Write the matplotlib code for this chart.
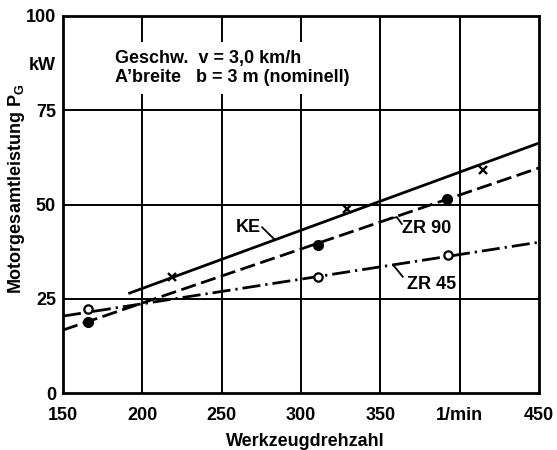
import matplotlib.pyplot as plt

# Werkzeugdrehzahl (1/min) -> Motorgesamtleistung (kW)
ke_line_x = [192, 450]
ke_line_y = [26.5, 66.3]
ke_pts_x = [219, 329, 415]
ke_pts_y = [30.8, 48.8, 59.2]

zr90_line_x = [150, 450]
zr90_line_y = [16.7, 59.7]
zr90_pts_x = [166, 311, 392]
zr90_pts_y = [18.8, 39.3, 51.4]

zr45_line_x = [150, 450]
zr45_line_y = [20.4, 40.0]
zr45_pts_x = [166, 311, 392.5]
zr45_pts_y = [22.3, 30.8, 36.6]

x_ticks = [150, 200, 250, 300, 350, 400, 450]
x_labels = ['150', '200', '250', '300', '350', '1/min', '450']
y_ticks = [0, 25, 50, 75, 87.5, 100]
y_labels = ['0', '25', '50', '75', 'kW', '100']

plt.rcParams['font.family'] = ['Liberation Sans', 'DejaVu Sans']
plt.rcParams['font.weight'] = 'bold'
plt.rcParams['axes.labelweight'] = 'bold'
plt.rcParams['mathtext.fontset'] = 'custom'
plt.rcParams['mathtext.rm'] = 'Liberation Sans:bold'
plt.rcParams['mathtext.bf'] = 'Liberation Sans:bold'

fig = plt.figure(figsize=(5.57, 4.5), dpi=100)
ax = fig.add_axes([63 / 557, 57 / 450, 476 / 557, 377 / 450])
ax.set_xlim(150, 450)
ax.set_ylim(0, 100)

# gitter
for x in [200, 250, 300, 350, 400]:
    ax.axvline(x, color='black', lw=1.4, zorder=1)
for y in [25, 50, 75]:
    ax.axhline(y, color='black', lw=1.4, zorder=1)

ax.plot(ke_line_x, ke_line_y, color='black', lw=2, zorder=3)
ax.plot(ke_pts_x, ke_pts_y, 'x', color='black', ms=5.5, mew=1.7, zorder=4)

ax.plot(zr90_line_x, zr90_line_y, color='black', lw=2, dashes=(5.5, 2), zorder=3)
ax.plot(zr90_pts_x, zr90_pts_y, 'o', color='black', ms=7, zorder=4)

ax.plot(zr45_line_x, zr45_line_y, color='black', lw=2, dashes=(6.5, 1.8, 0.8, 1.8), zorder=3)
ax.plot(zr45_pts_x, zr45_pts_y, 'o', mfc='white', mec='black', ms=6, mew=1.6, zorder=4)

# beschriftung der kurven
lead = dict(arrowstyle='-', color='black', lw=1.3, shrinkA=0, shrinkB=0)
ax.text(267, 43.8, 'KE', fontsize=13, ha='center', va='center')
ax.annotate('', xy=(283.6, 40.6), xytext=(275.4, 44.0), arrowprops=lead)
ax.text(379.4, 43.6, 'ZR 90', fontsize=13, ha='center', va='center')
ax.annotate('', xy=(360.5, 46.6), xytext=(363.6, 44.8), arrowprops=lead)
ax.annotate('', xy=(356.5, 46.4), xytext=(360.5, 46.6), arrowprops=lead)
ax.text(382.5, 28.8, 'ZR 45', fontsize=13, ha='center', va='center')
ax.annotate('', xy=(358, 34.0), xytext=(364.2, 30.8), arrowprops=lead)

ax.text(182.8, 86.2, 'Geschw.  v = 3,0 km/h\nA\u2019breite   b = 3 m (nominell)',
        fontsize=13, va='center', ha='left', linespacing=1.15, zorder=2,
        bbox=dict(facecolor='white', edgecolor='none', pad=6))

ax.set_xticks(x_ticks)
ax.set_xticklabels(x_labels, fontsize=13)
ax.set_yticks(y_ticks)
ax.set_yticklabels(y_labels, fontsize=13)
ax.tick_params(length=0)
ax.tick_params(axis='x', pad=10)
ax.tick_params(axis='y', pad=5)

ax.set_xlabel('Werkzeugdrehzahl', fontsize=13)
ax.xaxis.set_label_coords(0.51, -0.105)
ax.set_ylabel('Motorgesamtleistung $\\mathrm{P_G}$', fontsize=13)
ax.yaxis.set_label_coords(-0.076, 0.541)

for s in ax.spines.values():
    s.set_linewidth(2)

fig.savefig('out.png', dpi=100)
